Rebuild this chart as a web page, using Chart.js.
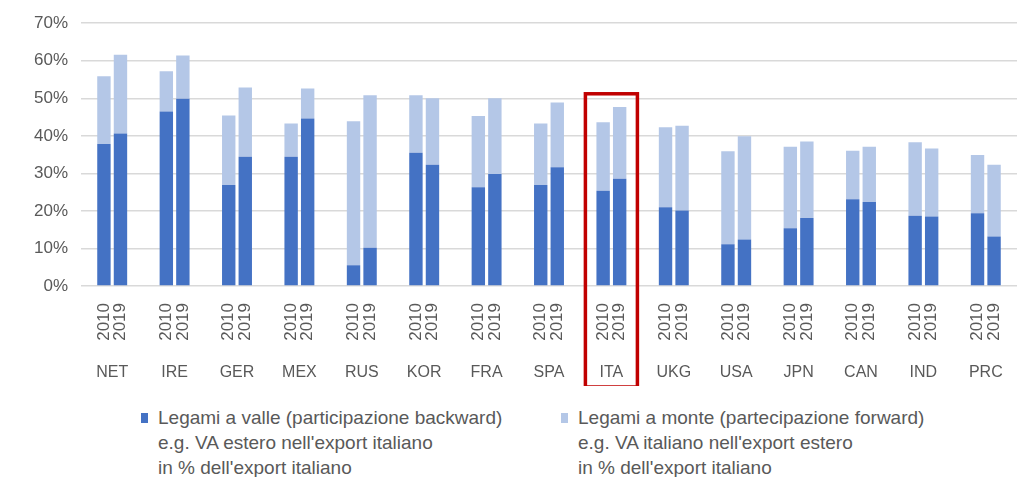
<!DOCTYPE html>
<html lang="it">
<head>
<meta charset="utf-8">
<script src="https://cdn.jsdelivr.net/npm/chart.js@4/dist/chart.umd.min.js"></script>
<style>
  html, body { margin: 0; padding: 0; background: #fff; }
  #wrap { position: relative; width: 1030px; height: 477px; overflow: hidden; }
  #chartBox { position: absolute; left: 0; top: 0; width: 1030px; height: 386px; }
  .legend { position: absolute; top: 405px; font-family: "Liberation Sans", Arial, sans-serif;
            font-size: 19px; line-height: 25px; color: #595959; white-space: nowrap; }
  .legend .box { position: absolute; left: -17px; top: 8px; width: 7px; height: 10px; }
</style>
</head>
<body>
<div id="wrap">
  <div id="chartBox"><canvas id="gvcChart"></canvas></div>
  <div class="legend" id="legBack" style="left:158px"></div>
  <div class="legend" id="legFwd" style="left:578px"></div>
</div>
<script>
const countries = ['NET', 'IRE', 'GER', 'MEX', 'RUS', 'KOR', 'FRA', 'SPA', 'ITA', 'UKG', 'USA', 'JPN', 'CAN', 'IND', 'PRC'];
const years = ['2010', '2019'];

// partecipazione backward (legami a valle), % dell'export
const backward2010 = [37.8, 46.5, 26.9, 34.4, 5.5, 35.5, 26.3, 26.9, 25.4, 21.0, 11.1, 15.4, 23.1, 18.7, 19.4];
const backward2019 = [40.6, 49.9, 34.4, 44.6, 10.2, 32.3, 29.8, 31.6, 28.6, 20.1, 12.4, 18.1, 22.4, 18.5, 13.2];
// partecipazione forward (legami a monte), % dell'export
const forward2010 = [18.1, 10.7, 18.5, 8.9, 38.4, 15.3, 19.0, 16.4, 18.2, 21.3, 24.8, 21.7, 12.9, 19.6, 15.5];
const forward2019 = [21.0, 11.5, 18.5, 8.0, 40.6, 17.7, 20.2, 17.3, 19.1, 22.6, 27.5, 20.4, 14.7, 18.1, 19.1];

const yTicks = [0, 10, 20, 30, 40, 50, 60, 70];
const highlight = 'ITA';

const darkBlue = '#4472c4';
const lightBlue = '#b4c7e7';
const textGrey = '#595959';
const fontFamily = '"Liberation Sans", Arial, sans-serif';

const legendLines = {
    back: ['Legami a valle (participazione backward)', "e.g. VA estero nell'export italiano", "in % dell'export italiano"],
    fwd: ['Legami a monte (partecipazione forward)', "e.g. VA italiano nell'export estero", "in % dell'export italiano"]
};

function makeSet(label, data, color, year) {
    return {
        label: label,
        data: data,
        backgroundColor: color,
        borderWidth: 0,
        stack: year,
        categoryPercentage: 0.53,
        barPercentage: 0.81
    };
}

// anni ruotati sotto ogni barra
const yearLabels = {
    id: 'yearLabels',
    afterDraw(chart) {
        const ctx = chart.ctx;
        const top = chart.chartArea.bottom + 17;
        ctx.save();
        ctx.font = '17px ' + fontFamily;
        ctx.fillStyle = textGrey;
        ctx.textAlign = 'right';
        ctx.textBaseline = 'middle';
        [0, 2].forEach((dsIndex, k) => {
            chart.getDatasetMeta(dsIndex).data.forEach(bar => {
                ctx.save();
                ctx.translate(bar.x, top);
                ctx.rotate(-Math.PI / 2);
                ctx.fillText(years[k], 0, 0);
                ctx.restore();
            });
        });
        ctx.restore();
    }
};

// riquadro rosso sull'Italia
const highlightBox = {
    id: 'highlightBox',
    afterDraw(chart) {
        const x = chart.scales.x;
        const y = chart.scales.y;
        const cx = x.getPixelForValue(countries.indexOf(highlight));
        const top = y.getPixelForValue(51.2);
        const bottom = chart.chartArea.bottom + 101;
        const ctx = chart.ctx;
        ctx.save();
        ctx.strokeStyle = '#c00000';
        ctx.lineWidth = 3.5;
        ctx.strokeRect(cx - 26, top, 52, bottom - top);
        ctx.restore();
    }
};

const chart = new Chart(document.getElementById('gvcChart'), {
    type: 'bar',
    data: {
        labels: countries,
        datasets: [
            makeSet(legendLines.back[0] + ' 2010', backward2010, darkBlue, '2010'),
            makeSet(legendLines.fwd[0] + ' 2010', forward2010, lightBlue, '2010'),
            makeSet(legendLines.back[0] + ' 2019', backward2019, darkBlue, '2019'),
            makeSet(legendLines.fwd[0] + ' 2019', forward2019, lightBlue, '2019')
        ]
    },
    options: {
        responsive: true,
        maintainAspectRatio: false,
        animation: false,
        layout: { padding: { left: 0, right: 13, top: 22, bottom: 0 } },
        plugins: {
            legend: { display: false },
            tooltip: { enabled: false }
        },
        scales: {
            x: {
                stacked: true,
                grid: { display: false },
                border: { display: false },
                ticks: {
                    color: textGrey,
                    font: { family: fontFamily, size: 16 },
                    padding: 69,
                    maxRotation: 0,
                    autoSkip: false
                },
                afterFit: scale => {
                    scale.height = 100;
                    // the big tick padding must not shrink the plot sideways
                    scale.paddingLeft = 0;
                    scale.paddingRight = 0;
                }
            },
            y: {
                stacked: true,
                min: 0,
                max: 70,
                afterBuildTicks: scale => { scale.ticks = yTicks.map(v => ({ value: v })); },
                grid: { color: '#d9d9d9', lineWidth: 1.5, drawTicks: false },
                border: { display: false },
                ticks: {
                    color: textGrey,
                    font: { family: fontFamily, size: 17 },
                    padding: 13,
                    callback: v => v + '%'
                },
                afterFit: scale => { scale.width = 81; }
            }
        }
    },
    plugins: [yearLabels, highlightBox]
});

// legenda su tre righe
function fillLegend(el, lines, color) {
    el.innerHTML = '<span class="box" style="background:' + color + '"></span>' +
        lines.map(t => t.replace(/&/g, '&amp;').replace(/</g, '&lt;')).join('<br>');
}
fillLegend(document.getElementById('legBack'), legendLines.back, darkBlue);
fillLegend(document.getElementById('legFwd'), legendLines.fwd, lightBlue);
</script>
</body>
</html>
